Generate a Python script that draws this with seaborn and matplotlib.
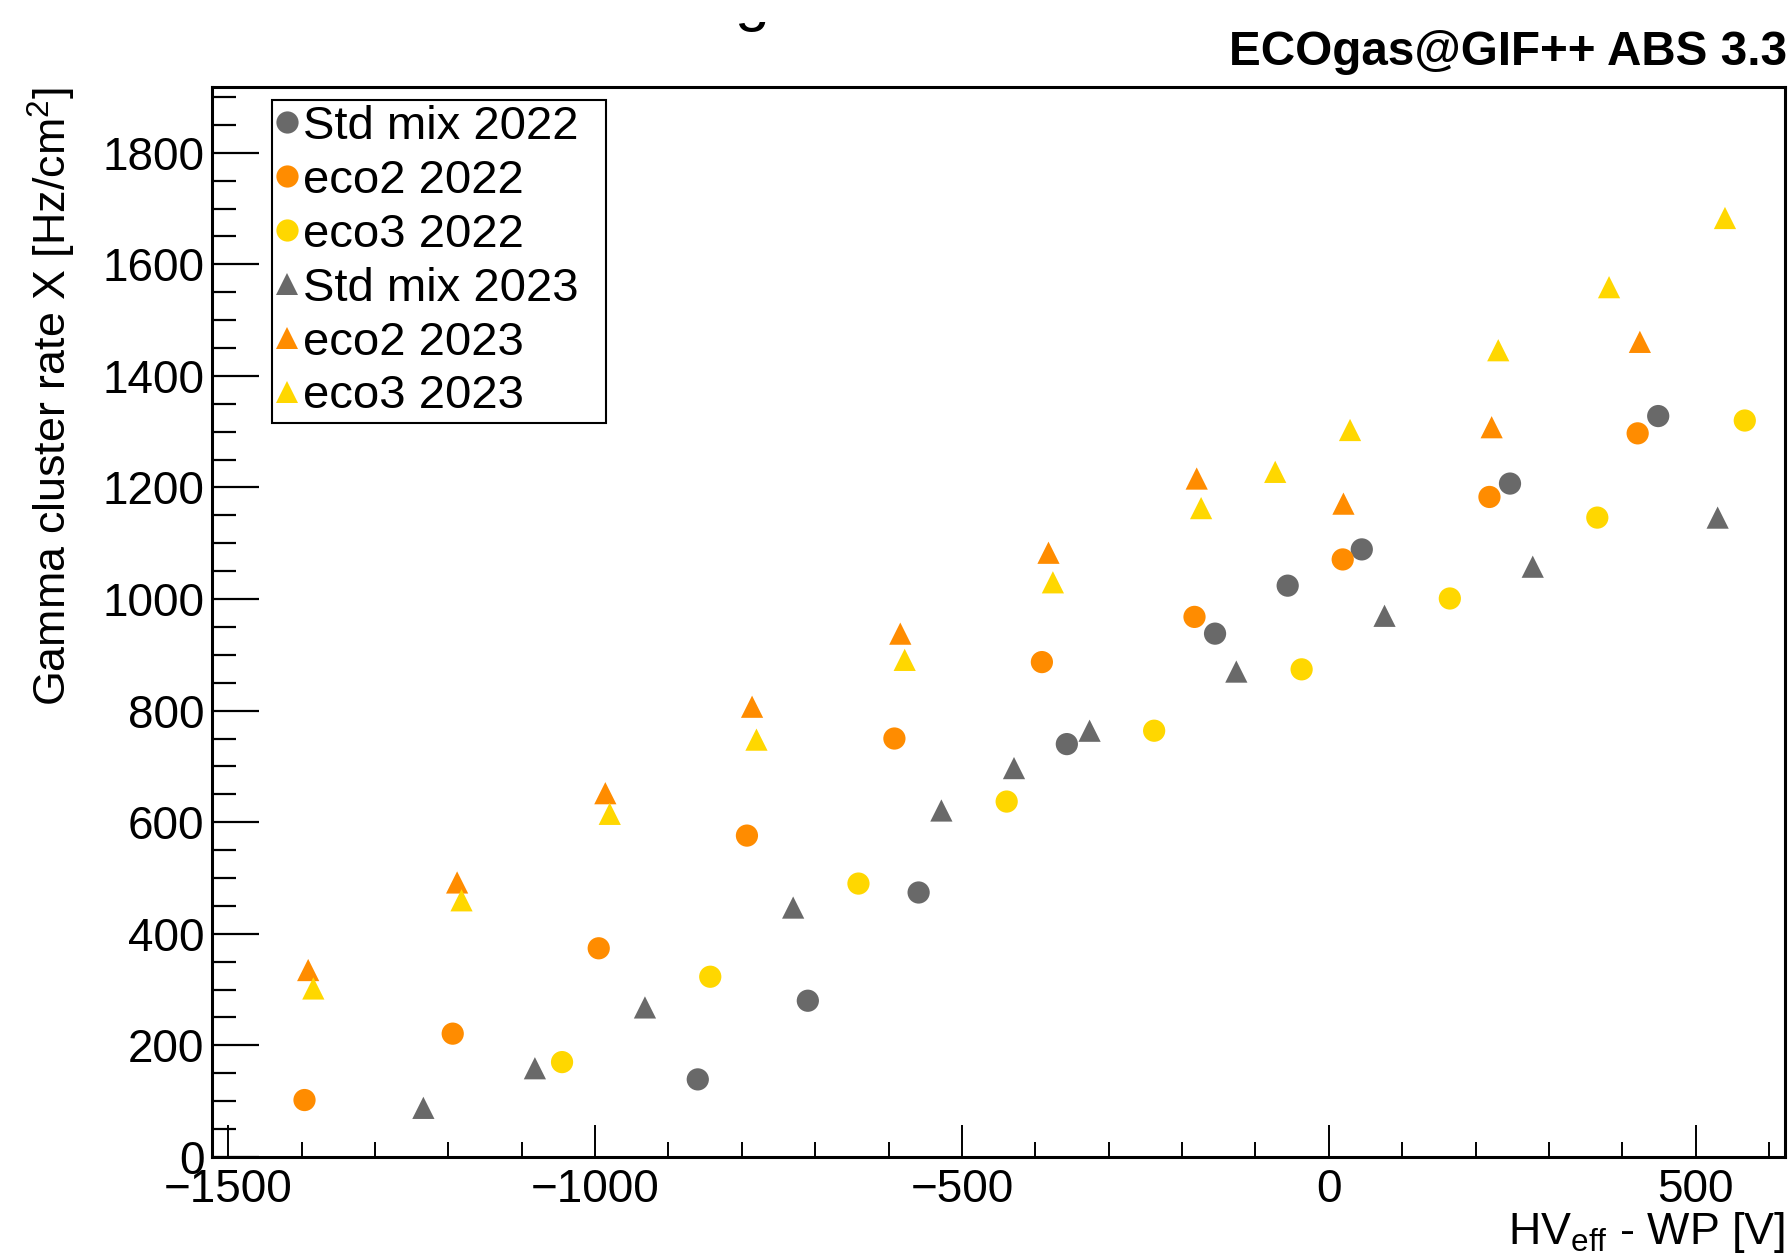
import numpy as np
import pandas as pd
import matplotlib
matplotlib.use("Agg")
import matplotlib.pyplot as plt
import seaborn as sns
from matplotlib.ticker import MultipleLocator
from matplotlib.patches import Rectangle

# values
std22_x = [-860, -710, -559, -357, -155, -56, 45, 247, 449]
std22_y = [139, 280, 474, 740, 938, 1024, 1089, 1207, 1328]

eco2_22_x = [-1396, -1194, -995, -793, -592, -391, -183, 19, 219, 421]
eco2_22_y = [102, 221, 374, 576, 750, 887, 968, 1071, 1183, 1297]

eco3_22_x = [-1045, -843, -641, -439, -238, -37, 165, 366, 567]
eco3_22_y = [170, 323, 490, 637, 764, 874, 1001, 1146, 1320]

std23_x = [-1234, -1082, -932, -730, -528, -429, -326, -126, 76, 278, 530]
std23_y = [88, 159, 268, 447, 621, 697, 764, 870, 970, 1058, 1146]

eco2_23_x = [-1391, -1188, -986, -786, -584, -382, -180, 20, 222, 424]
eco2_23_y = [335, 492, 652, 807, 938, 1083, 1216, 1171, 1308, 1461]

eco3_23_x = [-1384, -1182, -980, -780, -578, -376, -174, -73, 29, 231, 382, 540]
eco3_23_y = [302, 460, 615, 748, 891, 1030, 1163, 1228, 1303, 1446, 1559, 1683]

series = ['Std mix 2022', 'eco2 2022', 'eco3 2022', 'Std mix 2023', 'eco2 2023', 'eco3 2023']
xs = [std22_x, eco2_22_x, eco3_22_x, std23_x, eco2_23_x, eco3_23_x]
ys = [std22_y, eco2_22_y, eco3_22_y, std23_y, eco2_23_y, eco3_23_y]

colors = {'Std mix 2022': '#696969', 'eco2 2022': '#ff8c00', 'eco3 2022': '#ffd700',
          'Std mix 2023': '#696969', 'eco2 2023': '#ff8c00', 'eco3 2023': '#ffd700'}
markers = {'Std mix 2022': 'o', 'eco2 2022': 'o', 'eco3 2022': 'o',
           'Std mix 2023': '^', 'eco2 2023': '^', 'eco3 2023': '^'}

rows = []
for name, x, y in zip(series, xs, ys):
    for a, b in zip(x, y):
        rows.append((name, a, b))
df = pd.DataFrame(rows, columns=['series', 'hv', 'rate'])

sns.set_style('white')
plt.rcParams['font.family'] = ['Liberation Sans', 'DejaVu Sans']
plt.rcParams['mathtext.fontset'] = 'custom'
plt.rcParams['mathtext.rm'] = 'Liberation Sans'
plt.rcParams['mathtext.it'] = 'Liberation Sans'
for key in ['text.color', 'axes.labelcolor', 'xtick.color', 'ytick.color']:
    plt.rcParams[key] = 'black'

fig = plt.figure(figsize=(17.88, 12.54), dpi=100)
ax = fig.add_axes([0.1186, 0.0774, 0.8798, 0.8533])

sns.scatterplot(data=df, x='hv', y='rate', hue='series', style='series',
                hue_order=series, style_order=series,
                palette=colors, markers=markers, s=256, linewidth=0, ax=ax)

ax.set_xlim(-1522, 622)
ax.set_ylim(0, 1918)

ax.xaxis.set_major_locator(MultipleLocator(500))
ax.xaxis.set_minor_locator(MultipleLocator(100))
ax.yaxis.set_major_locator(MultipleLocator(200))
ax.yaxis.set_minor_locator(MultipleLocator(50))

# ROOT style: ticks inside, only on left / bottom
ax.tick_params(axis='y', which='major', direction='in', length=34, width=1.6,
               labelsize=33, pad=5.5, left=True, colors='black')
ax.tick_params(axis='y', which='minor', direction='in', length=17, width=1.6, left=True, colors='black')
ax.tick_params(axis='x', which='major', direction='in', length=23, width=1.4,
               labelsize=33, pad=8, bottom=True, colors='black')
ax.tick_params(axis='x', which='minor', direction='in', length=11, width=1.4, bottom=True, colors='black')

for sp in ax.spines.values():
    sp.set_linewidth(2.2)
    sp.set_color('black')

ax.set_xlabel(r'HV$_{\mathrm{eff}}$ - WP [V]', fontsize=32.3, ha='right', va='center')
ax.xaxis.set_label_coords(1.0, -0.071)
ax.set_ylabel(r'Gamma cluster rate X [Hz/cm$^{2}$]', fontsize=32.3, ha='right', va='center')
ax.yaxis.set_label_coords(-0.102, 1.0)

handles, labels = ax.get_legend_handles_labels()
leg = ax.legend(handles, labels, loc='upper left', bbox_to_anchor=(0.0378, 0.9876 - 0.30, 0.2124, 0.30),
                mode='expand', borderaxespad=0, fontsize=34, frameon=True, fancybox=False,
                edgecolor='black', framealpha=1, handlelength=0.45, handletextpad=0.12,
                labelspacing=0.21, borderpad=0.1, markerscale=1.0)
leg.get_frame().set_linewidth(1.5)

fig.text(0.9995, 1 - 65 / 1254, 'ECOgas@GIF++ ABS 3.3', ha='right', va='baseline',
         fontsize=34.3, fontweight='bold')

# clipped main title, only the bottom of the descender is visible
t = fig.text(752 / 1788, 1 - 19 / 1254, 'g', ha='center', va='baseline', fontsize=45)
clip = Rectangle((0, 0), 1, 1 - 22 / 1254, transform=fig.transFigure)
t.set_clip_path(clip)

fig.savefig('out.png', dpi=100)
